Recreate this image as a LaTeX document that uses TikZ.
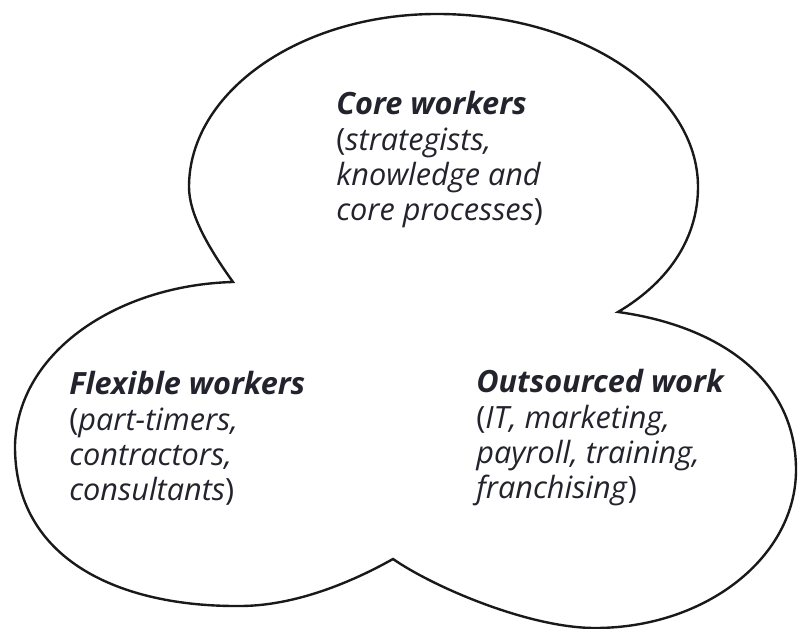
\documentclass[tikz,border=0pt]{standalone}
\usepackage{fontspec}
\setmainfont{Open Sans}
\usepackage{tikz}
\usetikzlibrary{positioning}
\definecolor{cloud@line}{RGB}{25,25,25}
\definecolor{cloud@text}{RGB}{35,35,45}
\tikzset{
  flexfirm/.style={
    x=0.025cm, y=-0.025cm,
    line width=0.5pt
  },
  lobe/.style={                    % outline of the three-lobed cloud
    draw=cloud@line, line width=1.7pt,
    fill=white
  },
  lobetext/.style={                % text inside one lobe, placed by its last line
    anchor=base west,
    inner sep=0pt,
    align=left,
    text=cloud@text,
    font=\fontsize{21.8}{25.2}\selectfont\itshape
  }
}

\begin{document}
\begin{tikzpicture}[flexfirm]
\useasboundingbox[fill=white] (0,0) rectangle (798,629);

% Cloud outline: core lobe, outsourced lobe, flexible lobe
\draw[lobe] (233,282)
  .. controls (210,250) and (189,215) .. (189,187)
  .. controls (189,92) and (300,14) .. (437,14)
  .. controls (581,14) and (698,92) .. (698,187)
  .. controls (698,235) and (672,280) .. (618,312)
  .. controls (713,325) and (796,375) .. (796,470)
  .. controls (796,557) and (706,628) .. (595,628)
  .. controls (530,628) and (435,588) .. (393,559)
  .. controls (345,586) and (290,606) .. (240,606)
  .. controls (120,607) and (14,560) .. (15,445)
  .. controls (18,350) and (120,285) .. (233,282)
  -- cycle;

% Core workers at top
\node[lobetext] (core) at (336,221)
  {\textbf{Core workers}\\\textup{(}strategists,\\knowledge and\\core processes\textup{)}};

% Flexible workers on the left
\node[lobetext] (flex) at (69,501)
  {\textbf{Flexible workers}\\\textup{(}part-timers,\\contractors,\\consultants\textup{)}};

% Outsourced work on the right
\node[lobetext] (outs) at (476,499)
  {\textbf{Outsourced work}\\\textup{(}IT, marketing,\\payroll, training,\\franchising\textup{)}};

\end{tikzpicture}
\end{document}
